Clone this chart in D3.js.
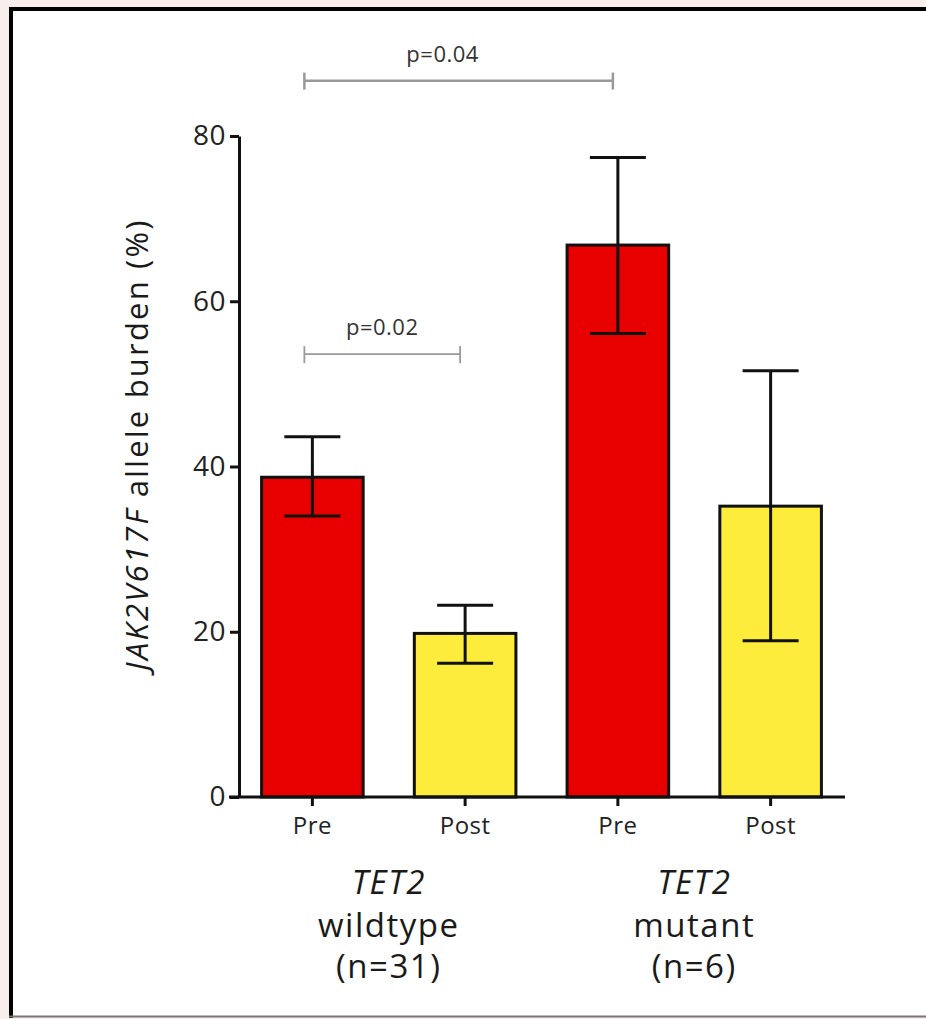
<!DOCTYPE html>
<html>
<head>
<meta charset="utf-8">
<script src="https://cdn.jsdelivr.net/npm/d3@7"></script>
<style>
  body { margin: 0; background: #f8eeec; }
  svg { display: block; }
  text { font-family: "Open Sans", "Noto Sans", sans-serif; fill: #1a1a1a; }
  .tick text { fill: #222; }
  .pval { fill: #333; font-size: 22px; letter-spacing: 0.5px; }
</style>
</head>
<body>
<div class="chart"></div>
<script>
// data
var labels = ["Pre", "Post", "Pre", "Post"];
var groups = ["wildtype", "mutant"];
var groupN = ["(n=31)", "(n=6)"];
var means = [38.7, 19.8, 66.8, 35.2];
var errLow = [34.0, 16.2, 56.1, 18.9];
var errHigh = [43.6, 23.2, 77.4, 51.6];
var yTicks = [0, 20, 40, 60, 80];
var compFrom = [0, 0];
var compTo = [2, 1];
var compLevel = [86.7, 53.6];
var compLabel = ["p=0.04", "p=0.02"];

var colors = ["#e80000", "#fdec3c", "#e80000", "#fdec3c"];

// dimensions
var W = 926, H = 1019;
var margin = {top: 136, left: 239};
var width = 606;
var height = 661;

var x = d3.scaleBand()
  .domain(d3.range(labels.length))
  .range([-3, width + 2])
  .paddingInner(0.335)
  .paddingOuter(0.1675);
var y = d3.scaleLinear()
  .domain([0, 80])
  .range([height, 0]);

var svg = d3.select(".chart")
  .append("svg")
  .attr("width", W)
  .attr("height", H);

// frame
svg.append("rect")
  .attr("x", 9).attr("y", 7)
  .attr("width", W - 9).attr("height", 1010)
  .attr("fill", "#fff");
svg.append("line")
  .attr("x1", 11).attr("x2", 11).attr("y1", 7).attr("y2", 1018)
  .attr("stroke", "#000").attr("stroke-width", 4);
svg.append("line")
  .attr("x1", 9).attr("x2", W).attr("y1", 9).attr("y2", 9)
  .attr("stroke", "#000").attr("stroke-width", 4);
svg.append("line")
  .attr("x1", 9).attr("x2", W).attr("y1", 1016.5).attr("y2", 1016.5)
  .attr("stroke", "#777").attr("stroke-width", 2);

var chart = svg.append("g")
  .attr("transform", "translate(" + margin.left + "," + margin.top + ")");

var cx = function(i) { return x(i) + x.bandwidth() / 2; };

// bars
chart.selectAll(".bar")
  .data(means)
  .enter()
  .append("rect")
  .attr("class", "bar")
  .attr("x", function(d, i) { return x(i); })
  .attr("y", function(d) { return y(d); })
  .attr("width", x.bandwidth())
  .attr("height", function(d) { return y(0) - y(d); })
  .attr("fill", function(d, i) { return colors[i]; })
  .attr("stroke", "#111")
  .attr("stroke-width", 3);

// error bars
var capW = 28;
means.forEach(function(d, i) {
  var g = chart.append("g").attr("stroke", "#111").attr("stroke-width", 3);
  g.append("line")
    .attr("x1", cx(i)).attr("x2", cx(i))
    .attr("y1", y(errLow[i])).attr("y2", y(errHigh[i]));
  g.append("line")
    .attr("x1", cx(i) - capW).attr("x2", cx(i) + capW)
    .attr("y1", y(errHigh[i])).attr("y2", y(errHigh[i]));
  g.append("line")
    .attr("x1", cx(i) - capW).attr("x2", cx(i) + capW)
    .attr("y1", y(errLow[i])).attr("y2", y(errLow[i]));
});

// axes
var yAxis = chart.append("g")
  .call(d3.axisLeft(y)
    .tickValues(yTicks)
    .tickSize(9)
    .tickSizeOuter(0)
    .tickPadding(4));
yAxis.selectAll("text").style("font-size", "28px").style("letter-spacing", "0.5px");
yAxis.selectAll("path, line").attr("stroke", "#111").attr("stroke-width", 3);

var xAxis = chart.append("g")
  .attr("transform", "translate(0," + height + ")")
  .call(d3.axisBottom(x)
    .tickFormat(function(i) { return labels[i]; })
    .tickSize(9)
    .tickSizeOuter(0)
    .tickPadding(11));
xAxis.select(".domain").remove();
xAxis.append("line")
  .attr("x1", -10).attr("x2", width)
  .attr("stroke", "#111").attr("stroke-width", 3);
xAxis.selectAll("line").attr("stroke", "#111").attr("stroke-width", 3);
xAxis.selectAll("text").style("font-size", "24px").style("letter-spacing", "0.5px");

// group labels
var gRows = [
  {dy: 97, italic: true, text: function() { return "TET2"; }},
  {dy: 140, italic: false, text: function(k) { return groups[k]; }},
  {dy: 181, italic: false, text: function(k) { return groupN[k]; }}
];
groups.forEach(function(gname, k) {
  var gx = (cx(2 * k) + cx(2 * k + 1)) / 2;
  gRows.forEach(function(r) {
    chart.append("text")
      .attr("x", gx).attr("y", height + r.dy)
      .attr("text-anchor", "middle")
      .style("font-size", "33px")
      .style("letter-spacing", "1.5px")
      .style("font-style", r.italic ? "italic" : "normal")
      .text(r.text(k));
  });
});

// y label
var ylab = chart.append("text")
  .attr("transform", "rotate(-90)")
  .attr("x", -(y(40) - 22))
  .attr("y", -91)
  .attr("text-anchor", "middle")
  .style("font-size", "31px")
  .style("letter-spacing", "2.2px");
ylab.append("tspan").style("font-style", "italic").text("JAK2V617F");
ylab.append("tspan").text(" allele burden (%)");

// significance brackets
var textShift = [-16, 0];
compLabel.forEach(function(lab, k) {
  var x1 = cx(compFrom[k]) - 8;
  var x2 = cx(compTo[k]) - 5;
  var yy = y(compLevel[k]);
  var g = chart.append("g")
    .attr("stroke", "#999")
    .attr("stroke-width", k === 0 ? 2.5 : 1.8);
  g.append("line").attr("x1", x1).attr("x2", x2).attr("y1", yy).attr("y2", yy);
  g.append("line").attr("x1", x1).attr("x2", x1).attr("y1", yy - 8).attr("y2", yy + 9);
  g.append("line").attr("x1", x2).attr("x2", x2).attr("y1", yy - 8).attr("y2", yy + 9);
  chart.append("text")
    .attr("class", "pval")
    .attr("x", (x1 + x2) / 2 + textShift[k])
    .attr("y", yy - 19)
    .attr("text-anchor", "middle")
    .text(lab);
});
</script>
</body>
</html>
